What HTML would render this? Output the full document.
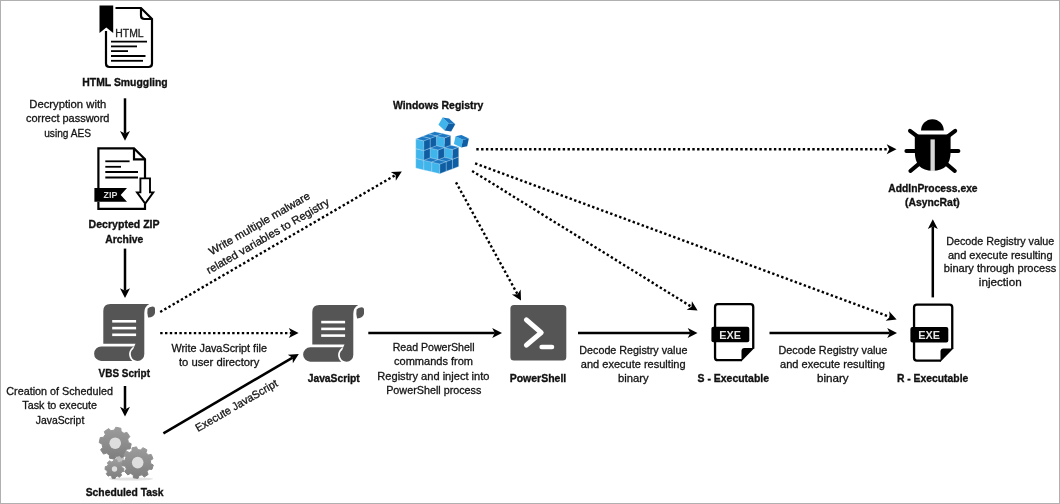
<!DOCTYPE html>
<html><head><meta charset="utf-8"><style>
html,body{margin:0;padding:0;background:#fff;overflow:hidden;width:1060px;height:504px;}
svg{display:block;font-family:"Liberation Sans",sans-serif;will-change:transform;}
</style></head><body>
<svg width="1060" height="504" viewBox="0 0 1060 504">
<rect width="1060" height="504" fill="#fff"/>
<rect x="0.5" y="0.5" width="1059" height="503" fill="none" stroke="#b0b0b0" stroke-width="1"/>
<line x1="125" y1="98.3" x2="125.00" y2="133.60" stroke="#000" stroke-width="2.5"/>
<path d="M125.00,140.80 L120.00,131.00 L125.00,133.60 L130.00,131.00Z" fill="#000"/>
<line x1="125" y1="248.6" x2="125.00" y2="290.80" stroke="#000" stroke-width="2.5"/>
<path d="M125.00,298.00 L120.00,288.20 L125.00,290.80 L130.00,288.20Z" fill="#000"/>
<line x1="125" y1="386" x2="125.00" y2="409.40" stroke="#000" stroke-width="2.5"/>
<path d="M125.00,416.60 L120.00,406.80 L125.00,409.40 L130.00,406.80Z" fill="#000"/>
<line x1="163.4" y1="433.3" x2="292.59" y2="357.64" stroke="#000" stroke-width="2.5"/>
<path d="M298.80,354.00 L292.87,363.27 L292.59,357.64 L287.82,354.64Z" fill="#000"/>
<line x1="368.3" y1="333.1" x2="494.80" y2="333.10" stroke="#000" stroke-width="2.5"/>
<path d="M502.00,333.10 L492.20,338.10 L494.80,333.10 L492.20,328.10Z" fill="#000"/>
<line x1="578" y1="333.1" x2="690.30" y2="333.10" stroke="#000" stroke-width="2.5"/>
<path d="M697.50,333.10 L687.70,338.10 L690.30,333.10 L687.70,328.10Z" fill="#000"/>
<line x1="769.5" y1="333.1" x2="889.80" y2="333.10" stroke="#000" stroke-width="2.5"/>
<path d="M897.00,333.10 L887.20,338.10 L889.80,333.10 L887.20,328.10Z" fill="#000"/>
<line x1="932.8" y1="297.4" x2="932.80" y2="226.50" stroke="#000" stroke-width="2.5"/>
<path d="M932.80,219.30 L937.80,229.10 L932.80,226.50 L927.80,229.10Z" fill="#000"/>
<line x1="160.2" y1="312" x2="395.58" y2="175.02" stroke="#000" stroke-width="2.4" stroke-dasharray="2.4 2.4"/>
<path d="M401.80,171.40 L395.84,180.65 L395.58,175.02 L390.81,172.01Z" fill="#000"/>
<line x1="160.2" y1="333.1" x2="291.40" y2="333.10" stroke="#000" stroke-width="2.4" stroke-dasharray="2.4 2.4"/>
<path d="M298.60,333.10 L288.80,338.10 L291.40,333.10 L288.80,328.10Z" fill="#000"/>
<line x1="476.3" y1="149.3" x2="889.30" y2="149.30" stroke="#000" stroke-width="2.4" stroke-dasharray="2.4 2.4"/>
<path d="M896.50,149.30 L886.70,154.30 L889.30,149.30 L886.70,144.30Z" fill="#000"/>
<line x1="475.1" y1="163.4" x2="889.85" y2="316.90" stroke="#000" stroke-width="2.4" stroke-dasharray="2.4 2.4"/>
<path d="M896.60,319.40 L885.67,320.69 L889.85,316.90 L889.14,311.31Z" fill="#000"/>
<line x1="472.1" y1="170.9" x2="691.48" y2="306.81" stroke="#000" stroke-width="2.4" stroke-dasharray="2.4 2.4"/>
<path d="M697.60,310.60 L686.64,309.69 L691.48,306.81 L691.90,301.19Z" fill="#000"/>
<line x1="456" y1="182.3" x2="517.53" y2="294.29" stroke="#000" stroke-width="2.4" stroke-dasharray="2.4 2.4"/>
<path d="M521.00,300.60 L511.90,294.42 L517.53,294.29 L520.66,289.60Z" fill="#000"/>
<g fill="none" stroke="#000" stroke-width="2.2">
<path d="M115.5,8 H141 L152,19 V63.5 Q152,67 148.5,67 H109.5 Q106,67 106,63.5 V31"/>
<path d="M141,8 V15.5 Q141,19 144.5,19 H152"/>
</g>
<path d="M99.5,5.6 H113.2 V33 L106.3,27.5 L99.5,33Z" fill="#000"/>
<g stroke="#000" stroke-width="1.8">
<line x1="111" y1="41.7" x2="147" y2="41.7"/>
<line x1="111" y1="46.4" x2="137" y2="46.4"/>
<line x1="111" y1="51.1" x2="128" y2="51.1"/>
<line x1="111" y1="56" x2="145.5" y2="56"/>
<line x1="111" y1="60.8" x2="143" y2="60.8"/>
</g>
<text x="115.3" y="37.2" font-size="10" textLength="28.3" lengthAdjust="spacingAndGlyphs" fill="#222" stroke="#222" stroke-width="0.3">HTML</text>

<g fill="none" stroke="#000" stroke-width="2.2">
<path d="M98.4,188 V148.4 H134 L145,159.3 V178.2"/>
<path d="M134,148.4 V159.3 H145"/>
<path d="M98.4,201.8 V208.8 H145 V204"/>
<path d="M140.4,178.4 H150 V192.4 H153.3 L145.2,203.6 L137,192.4 H140.4Z" stroke-width="1.9"/>
</g>
<g stroke="#000" stroke-width="1.8">
<line x1="105.3" y1="161.3" x2="129.6" y2="161.3"/>
<line x1="105.3" y1="166.8" x2="121" y2="166.8"/>
<line x1="105.3" y1="172" x2="138" y2="172"/>
<line x1="105.3" y1="177.5" x2="138" y2="177.5"/>
</g>
<path d="M94.4,188 H127 L120.7,194.9 L127,201.8 H94.4Z" fill="#000"/>
<text x="103.6" y="198.2" font-size="9.9" font-weight="bold" textLength="13.8" lengthAdjust="spacingAndGlyphs" fill="#ddd">ZIP</text>

<g transform="translate(0,0)" fill="#555">
<path d="M103.3,343.7 V311.1 Q103.3,304.1 110.3,304.1 H149.3 Q144.3,306.8 144.3,313 V354.2 A6.7,6.7 0 0 1 137.5,360.9 A6.7,6.7 0 0 1 133.2,349.1 Q134.4,346 135.5,343.7 Z"/>
<path d="M147.6,308.8 Q149,306.8 152.5,306.5 Q155.1,306.5 155,309.2 V313 Q154.3,317.2 148.1,317.6 Q146.8,313 147.6,308.8Z"/>
<path d="M101.3,346.5 H134.1 A8.4,8.4 0 0 0 132.4,360.9 H101.3 A7.2,7.2 0 0 1 101.3,346.5Z"/>
<g stroke="#fff" stroke-width="2.6">
<line x1="112.2" y1="321.3" x2="136.1" y2="321.3"/>
<line x1="112.2" y1="328.1" x2="136.1" y2="328.1"/>
<line x1="112.2" y1="334.8" x2="136.1" y2="334.8"/>
</g></g>
<g transform="translate(209,0.8)" fill="#555">
<path d="M103.3,343.7 V311.1 Q103.3,304.1 110.3,304.1 H149.3 Q144.3,306.8 144.3,313 V354.2 A6.7,6.7 0 0 1 137.5,360.9 A6.7,6.7 0 0 1 133.2,349.1 Q134.4,346 135.5,343.7 Z"/>
<path d="M147.6,308.8 Q149,306.8 152.5,306.5 Q155.1,306.5 155,309.2 V313 Q154.3,317.2 148.1,317.6 Q146.8,313 147.6,308.8Z"/>
<path d="M101.3,346.5 H134.1 A8.4,8.4 0 0 0 132.4,360.9 H101.3 A7.2,7.2 0 0 1 101.3,346.5Z"/>
<g stroke="#fff" stroke-width="2.6">
<line x1="112.2" y1="321.3" x2="136.1" y2="321.3"/>
<line x1="112.2" y1="328.1" x2="136.1" y2="328.1"/>
<line x1="112.2" y1="334.8" x2="136.1" y2="334.8"/>
</g></g>
<defs><linearGradient id="gg" x1="0" y1="0" x2="0" y2="1"><stop offset="0" stop-color="#9c9c9c"/><stop offset="1" stop-color="#7e7e7e"/></linearGradient></defs>
<ellipse cx="131" cy="479" rx="22" ry="1.6" fill="#e2e2e2"/>
<circle cx="120" cy="458.5" r="4" fill="#bdbdbd"/>
<path d="M128.38,442.42 L131.19,443.76 L130.15,448.91 L127.03,449.05 L125.07,451.97 L126.11,454.90 L121.73,457.81 L119.43,455.70 L115.98,456.38 L114.64,459.19 L109.49,458.15 L109.35,455.03 L106.43,453.07 L103.50,454.11 L100.59,449.73 L102.70,447.43 L102.02,443.98 L99.21,442.64 L100.25,437.49 L103.37,437.35 L105.33,434.43 L104.29,431.50 L108.67,428.59 L110.97,430.70 L114.42,430.02 L115.76,427.21 L120.91,428.25 L121.05,431.37 L123.97,433.33 L126.90,432.29 L129.81,436.67 L127.70,438.97Z" fill="url(#gg)" stroke="url(#gg)" stroke-width="1" stroke-linejoin="round"/><circle cx="115.2" cy="443.2" r="5.8" fill="#dedede"/>
<path d="M122.20,467.76 L123.98,468.38 L123.67,471.49 L121.80,471.74 L120.82,473.57 L121.64,475.27 L119.22,477.24 L117.72,476.10 L115.74,476.70 L115.12,478.48 L112.01,478.17 L111.76,476.30 L109.93,475.32 L108.23,476.14 L106.26,473.72 L107.40,472.22 L106.80,470.24 L105.02,469.62 L105.33,466.51 L107.20,466.26 L108.18,464.43 L107.36,462.73 L109.78,460.76 L111.28,461.90 L113.26,461.30 L113.88,459.52 L116.99,459.83 L117.24,461.70 L119.07,462.68 L120.77,461.86 L122.74,464.28 L121.60,465.78Z" fill="url(#gg)" stroke="url(#gg)" stroke-width="1" stroke-linejoin="round"/><circle cx="114.5" cy="469" r="2.7" fill="#dedede"/>
<path d="M150.67,463.50 L153.31,465.01 L151.95,469.42 L148.91,469.18 L147.05,471.63 L148.11,474.49 L144.23,476.99 L142.06,474.85 L139.06,475.53 L138.03,478.40 L133.45,477.82 L133.17,474.79 L130.43,473.38 L127.80,474.92 L124.66,471.53 L126.40,469.02 L125.20,466.19 L122.20,465.67 L121.98,461.06 L124.91,460.26 L125.82,457.31 L123.85,454.99 L126.64,451.31 L129.41,452.58 L132.00,450.92 L131.98,447.87 L136.48,446.85 L137.79,449.60 L140.84,449.99 L142.79,447.64 L146.90,449.75 L146.12,452.70 L148.22,454.96 L151.21,454.41 L153.00,458.67 L150.52,460.43Z" fill="url(#gg)" stroke="url(#gg)" stroke-width="1" stroke-linejoin="round"/><circle cx="137.7" cy="462.6" r="5.8" fill="#dedede"/>
<g stroke="#d0ebfa" stroke-width="0.3" stroke-linejoin="round"><polygon points="428.40,163.20 436.40,165.10 436.40,155.40 428.40,153.50" fill="#40b5ec"/><polygon points="436.40,165.10 442.70,162.70 442.70,153.00 436.40,155.40" fill="#0f5ea3"/><polygon points="428.40,153.50 436.40,155.40 442.70,153.00 434.70,151.10" fill="#1c78c2"/><polygon points="436.40,165.10 444.40,167.00 444.40,157.30 436.40,155.40" fill="#40b5ec"/><polygon points="444.40,167.00 450.70,164.60 450.70,154.90 444.40,157.30" fill="#0f5ea3"/><polygon points="436.40,155.40 444.40,157.30 450.70,154.90 442.70,153.00" fill="#1c78c2"/><polygon points="444.40,167.00 452.40,168.90 452.40,159.20 444.40,157.30" fill="#40b5ec"/><polygon points="452.40,168.90 458.70,166.50 458.70,156.80 452.40,159.20" fill="#0f5ea3"/><polygon points="444.40,157.30 452.40,159.20 458.70,156.80 450.70,154.90" fill="#1c78c2"/><polygon points="428.40,153.50 436.40,155.40 436.40,145.70 428.40,143.80" fill="#40b5ec"/><polygon points="436.40,155.40 442.70,153.00 442.70,143.30 436.40,145.70" fill="#0f5ea3"/><polygon points="428.40,143.80 436.40,145.70 442.70,143.30 434.70,141.40" fill="#1c78c2"/><polygon points="436.40,155.40 444.40,157.30 444.40,147.60 436.40,145.70" fill="#40b5ec"/><polygon points="444.40,157.30 450.70,154.90 450.70,145.20 444.40,147.60" fill="#0f5ea3"/><polygon points="436.40,145.70 444.40,147.60 450.70,145.20 442.70,143.30" fill="#1c78c2"/><polygon points="444.40,157.30 452.40,159.20 452.40,149.50 444.40,147.60" fill="#40b5ec"/><polygon points="452.40,159.20 458.70,156.80 458.70,147.10 452.40,149.50" fill="#0f5ea3"/><polygon points="444.40,147.60 452.40,149.50 458.70,147.10 450.70,145.20" fill="#1c78c2"/><polygon points="428.40,143.80 436.40,145.70 436.40,136.00 428.40,134.10" fill="#40b5ec"/><polygon points="436.40,145.70 442.70,143.30 442.70,133.60 436.40,136.00" fill="#0f5ea3"/><polygon points="428.40,134.10 436.40,136.00 442.70,133.60 434.70,131.70" fill="#1c78c2"/><polygon points="436.40,145.70 444.40,147.60 444.40,137.90 436.40,136.00" fill="#40b5ec"/><polygon points="444.40,147.60 450.70,145.20 450.70,135.50 444.40,137.90" fill="#0f5ea3"/><polygon points="436.40,136.00 444.40,137.90 450.70,135.50 442.70,133.60" fill="#1c78c2"/><polygon points="422.10,165.60 430.10,167.50 430.10,157.80 422.10,155.90" fill="#40b5ec"/><polygon points="430.10,167.50 436.40,165.10 436.40,155.40 430.10,157.80" fill="#0f5ea3"/><polygon points="422.10,155.90 430.10,157.80 436.40,155.40 428.40,153.50" fill="#1c78c2"/><polygon points="430.10,167.50 438.10,169.40 438.10,159.70 430.10,157.80" fill="#40b5ec"/><polygon points="438.10,169.40 444.40,167.00 444.40,157.30 438.10,159.70" fill="#0f5ea3"/><polygon points="430.10,157.80 438.10,159.70 444.40,157.30 436.40,155.40" fill="#1c78c2"/><polygon points="438.10,169.40 446.10,171.30 446.10,161.60 438.10,159.70" fill="#40b5ec"/><polygon points="446.10,171.30 452.40,168.90 452.40,159.20 446.10,161.60" fill="#0f5ea3"/><polygon points="438.10,159.70 446.10,161.60 452.40,159.20 444.40,157.30" fill="#1c78c2"/><polygon points="422.10,155.90 430.10,157.80 430.10,148.10 422.10,146.20" fill="#40b5ec"/><polygon points="430.10,157.80 436.40,155.40 436.40,145.70 430.10,148.10" fill="#0f5ea3"/><polygon points="422.10,146.20 430.10,148.10 436.40,145.70 428.40,143.80" fill="#1c78c2"/><polygon points="430.10,157.80 438.10,159.70 438.10,150.00 430.10,148.10" fill="#40b5ec"/><polygon points="438.10,159.70 444.40,157.30 444.40,147.60 438.10,150.00" fill="#0f5ea3"/><polygon points="430.10,148.10 438.10,150.00 444.40,147.60 436.40,145.70" fill="#1c78c2"/><polygon points="422.10,146.20 430.10,148.10 430.10,138.40 422.10,136.50" fill="#40b5ec"/><polygon points="430.10,148.10 436.40,145.70 436.40,136.00 430.10,138.40" fill="#0f5ea3"/><polygon points="422.10,136.50 430.10,138.40 436.40,136.00 428.40,134.10" fill="#1c78c2"/><polygon points="415.80,168.00 423.80,169.90 423.80,160.20 415.80,158.30" fill="#40b5ec"/><polygon points="423.80,169.90 430.10,167.50 430.10,157.80 423.80,160.20" fill="#0f5ea3"/><polygon points="415.80,158.30 423.80,160.20 430.10,157.80 422.10,155.90" fill="#1c78c2"/><polygon points="423.80,169.90 431.80,171.80 431.80,162.10 423.80,160.20" fill="#40b5ec"/><polygon points="431.80,171.80 438.10,169.40 438.10,159.70 431.80,162.10" fill="#0f5ea3"/><polygon points="423.80,160.20 431.80,162.10 438.10,159.70 430.10,157.80" fill="#1c78c2"/><polygon points="431.80,171.80 439.80,173.70 439.80,164.00 431.80,162.10" fill="#40b5ec"/><polygon points="439.80,173.70 446.10,171.30 446.10,161.60 439.80,164.00" fill="#0f5ea3"/><polygon points="431.80,162.10 439.80,164.00 446.10,161.60 438.10,159.70" fill="#1c78c2"/><polygon points="415.80,158.30 423.80,160.20 423.80,150.50 415.80,148.60" fill="#40b5ec"/><polygon points="423.80,160.20 430.10,157.80 430.10,148.10 423.80,150.50" fill="#0f5ea3"/><polygon points="415.80,148.60 423.80,150.50 430.10,148.10 422.10,146.20" fill="#1c78c2"/><polygon points="415.80,148.60 423.80,150.50 423.80,140.80 415.80,138.90" fill="#40b5ec"/><polygon points="423.80,150.50 430.10,148.10 430.10,138.40 423.80,140.80" fill="#0f5ea3"/><polygon points="415.80,138.90 423.80,140.80 430.10,138.40 422.10,136.50" fill="#1c78c2"/></g>
<g transform="rotate(30 447.5 123)"><polygon points="440.50,129.00 448.70,130.90 448.70,122.70 440.50,120.80" fill="#40b5ec"/><polygon points="448.70,130.90 454.90,128.50 454.90,120.30 448.70,122.70" fill="#0f5ea3"/><polygon points="440.50,120.80 448.70,122.70 454.90,120.30 446.70,118.40" fill="#1c78c2"/></g>
<g transform="rotate(12 461.5 139.5)"><polygon points="455.00,145.50 463.00,147.40 463.00,139.40 455.00,137.50" fill="#40b5ec"/><polygon points="463.00,147.40 468.50,145.00 468.50,137.00 463.00,139.40" fill="#0f5ea3"/><polygon points="455.00,137.50 463.00,139.40 468.50,137.00 460.50,135.10" fill="#1c78c2"/></g>
<rect x="510.4" y="305.1" width="55.9" height="55.5" rx="3.5" fill="#555"/>
<path d="M526.4,319.9 L541.2,332.6 L526.4,345.2" fill="none" stroke="#fff" stroke-width="5" stroke-linecap="round" stroke-linejoin="round"/>
<line x1="541.6" y1="347" x2="552" y2="347" stroke="#fff" stroke-width="4.5" stroke-linecap="round"/>

<g transform="translate(0,0)">
<path d="M742,360.15 H717.8 Q715.05,360.15 715.05,357.4 V306.9 Q715.05,304.15 717.8,304.15 H750.5 Q753.25,304.15 753.25,306.9 V348.5" fill="none" stroke="#000" stroke-width="2.3"/>
<path d="M741.5,361.3 V351 Q741.5,348 744.5,348 H754.4Z" fill="#000"/>
<rect x="711.4" y="326.7" width="37.9" height="15.5" rx="2" fill="#000"/>
<text x="719.2" y="338.8" font-size="11" font-weight="bold" textLength="21.8" lengthAdjust="spacingAndGlyphs" fill="#e6e6e6">EXE</text>
</g>
<g transform="translate(199,0.4)">
<path d="M742,360.15 H717.8 Q715.05,360.15 715.05,357.4 V306.9 Q715.05,304.15 717.8,304.15 H750.5 Q753.25,304.15 753.25,306.9 V348.5" fill="none" stroke="#000" stroke-width="2.3"/>
<path d="M741.5,361.3 V351 Q741.5,348 744.5,348 H754.4Z" fill="#000"/>
<rect x="711.4" y="326.7" width="37.9" height="15.5" rx="2" fill="#000"/>
<text x="719.2" y="338.8" font-size="11" font-weight="bold" textLength="21.8" lengthAdjust="spacingAndGlyphs" fill="#e6e6e6">EXE</text>
</g>
<path d="M921,130.6 A11.4,11.4 0 0 1 943.8,130.6Z" fill="#000"/>
<path d="M914.8,134.6 H950.6 V152 Q950.6,170.8 932.7,170.8 Q914.8,170.8 914.8,152Z" fill="#000"/>
<rect x="930.5" y="139.4" width="4.3" height="31.7" fill="#d8d8d8"/>
<g stroke="#000" stroke-width="4" stroke-linecap="round">
<line x1="910" y1="130.8" x2="917.3" y2="136.4"/>
<line x1="906.4" y1="151" x2="914.6" y2="151"/>
<line x1="910.4" y1="171" x2="918" y2="164.6"/>
<line x1="955.2" y1="130.8" x2="947.9" y2="136.4"/>
<line x1="958.4" y1="151" x2="950.6" y2="151"/>
<line x1="954.8" y1="171" x2="947.2" y2="164.6"/>
</g>
<text x="82.3" y="85.5" font-size="11.4" font-weight="bold" textLength="85.4" lengthAdjust="spacingAndGlyphs" fill="#111" stroke="#111" stroke-width="0.35">HTML Smuggling</text>
<text x="88.6" y="227.8" font-size="11.4" font-weight="bold" textLength="71.0" lengthAdjust="spacingAndGlyphs" fill="#111" stroke="#111" stroke-width="0.35">Decrypted ZIP</text>
<text x="105.3" y="242.5" font-size="11.4" font-weight="bold" textLength="38.0" lengthAdjust="spacingAndGlyphs" fill="#111" stroke="#111" stroke-width="0.35">Archive</text>
<text x="98.6" y="377" font-size="11.4" font-weight="bold" textLength="51.4" lengthAdjust="spacingAndGlyphs" fill="#111" stroke="#111" stroke-width="0.35">VBS Script</text>
<text x="85.7" y="496.3" font-size="11.4" font-weight="bold" textLength="77.9" lengthAdjust="spacingAndGlyphs" fill="#111" stroke="#111" stroke-width="0.35">Scheduled Task</text>
<text x="392.9" y="109.3" font-size="11.4" font-weight="bold" textLength="90.5" lengthAdjust="spacingAndGlyphs" fill="#111" stroke="#111" stroke-width="0.35">Windows Registry</text>
<text x="307.7" y="381.9" font-size="11.4" font-weight="bold" textLength="52.1" lengthAdjust="spacingAndGlyphs" fill="#111" stroke="#111" stroke-width="0.35">JavaScript</text>
<text x="509.7" y="381.8" font-size="11.4" font-weight="bold" textLength="56.6" lengthAdjust="spacingAndGlyphs" fill="#111" stroke="#111" stroke-width="0.35">PowerShell</text>
<text x="697.5" y="381.6" font-size="11.4" font-weight="bold" textLength="71.5" lengthAdjust="spacingAndGlyphs" fill="#111" stroke="#111" stroke-width="0.35">S - Executable</text>
<text x="896.9" y="382" font-size="11.4" font-weight="bold" textLength="71.4" lengthAdjust="spacingAndGlyphs" fill="#111" stroke="#111" stroke-width="0.35">R - Executable</text>
<text x="888.3" y="192.4" font-size="11.4" font-weight="bold" textLength="89.3" lengthAdjust="spacingAndGlyphs" fill="#111" stroke="#111" stroke-width="0.35">AddInProcess.exe</text>
<text x="905" y="205.7" font-size="11.4" font-weight="bold" textLength="54.8" lengthAdjust="spacingAndGlyphs" fill="#111" stroke="#111" stroke-width="0.35">(AsyncRat)</text>
<text x="29.3" y="107.5" font-size="11" textLength="77.0" lengthAdjust="spacingAndGlyphs" fill="#141414" stroke="#141414" stroke-width="0.3">Decryption with</text>
<text x="26" y="121.8" font-size="11" textLength="83.4" lengthAdjust="spacingAndGlyphs" fill="#141414" stroke="#141414" stroke-width="0.3">correct password</text>
<text x="44.2" y="136.9" font-size="11" textLength="46.8" lengthAdjust="spacingAndGlyphs" fill="#141414" stroke="#141414" stroke-width="0.3">using AES</text>
<text x="6.3" y="395.1" font-size="11" textLength="106.6" lengthAdjust="spacingAndGlyphs" fill="#141414" stroke="#141414" stroke-width="0.3">Creation of Scheduled</text>
<text x="22.3" y="409.2" font-size="11" textLength="74.7" lengthAdjust="spacingAndGlyphs" fill="#141414" stroke="#141414" stroke-width="0.3">Task to execute</text>
<text x="35.7" y="423.5" font-size="11" textLength="48.6" lengthAdjust="spacingAndGlyphs" fill="#141414" stroke="#141414" stroke-width="0.3">JavaScript</text>
<text x="171.4" y="352.2" font-size="11" textLength="95.6" lengthAdjust="spacingAndGlyphs" fill="#141414" stroke="#141414" stroke-width="0.3">Write JavaScript file</text>
<text x="178.9" y="366.3" font-size="11" textLength="80.6" lengthAdjust="spacingAndGlyphs" fill="#141414" stroke="#141414" stroke-width="0.3">to user directory</text>
<text x="392.7" y="351.3" font-size="11" textLength="81.9" lengthAdjust="spacingAndGlyphs" fill="#141414" stroke="#141414" stroke-width="0.3">Read PowerShell</text>
<text x="394" y="365.3" font-size="11" textLength="79.0" lengthAdjust="spacingAndGlyphs" fill="#141414" stroke="#141414" stroke-width="0.3">commands from</text>
<text x="377.3" y="379.8" font-size="11" textLength="112.2" lengthAdjust="spacingAndGlyphs" fill="#141414" stroke="#141414" stroke-width="0.3">Registry and inject into</text>
<text x="386.2" y="393.6" font-size="11" textLength="95.2" lengthAdjust="spacingAndGlyphs" fill="#141414" stroke="#141414" stroke-width="0.3">PowerShell process</text>
<text x="579.3" y="354" font-size="11" textLength="108.1" lengthAdjust="spacingAndGlyphs" fill="#141414" stroke="#141414" stroke-width="0.3">Decode Registry value</text>
<text x="580.8" y="368" font-size="11" textLength="104.8" lengthAdjust="spacingAndGlyphs" fill="#141414" stroke="#141414" stroke-width="0.3">and execute resulting</text>
<text x="618" y="381.9" font-size="11" textLength="30.7" lengthAdjust="spacingAndGlyphs" fill="#141414" stroke="#141414" stroke-width="0.3">binary</text>
<text x="778.5" y="354" font-size="11" textLength="108.9" lengthAdjust="spacingAndGlyphs" fill="#141414" stroke="#141414" stroke-width="0.3">Decode Registry value</text>
<text x="780" y="368.2" font-size="11" textLength="105.0" lengthAdjust="spacingAndGlyphs" fill="#141414" stroke="#141414" stroke-width="0.3">and execute resulting</text>
<text x="817" y="382" font-size="11" textLength="31.7" lengthAdjust="spacingAndGlyphs" fill="#141414" stroke="#141414" stroke-width="0.3">binary</text>
<text x="946.2" y="244.8" font-size="11" textLength="108.1" lengthAdjust="spacingAndGlyphs" fill="#141414" stroke="#141414" stroke-width="0.3">Decode Registry value</text>
<text x="947.9" y="258.6" font-size="11" textLength="104.7" lengthAdjust="spacingAndGlyphs" fill="#141414" stroke="#141414" stroke-width="0.3">and execute resulting</text>
<text x="943.8" y="272.4" font-size="11" textLength="112.4" lengthAdjust="spacingAndGlyphs" fill="#141414" stroke="#141414" stroke-width="0.3">binary through process</text>
<text x="978.8" y="286" font-size="11" textLength="42.9" lengthAdjust="spacingAndGlyphs" fill="#141414" stroke="#141414" stroke-width="0.3">injection</text>
<g transform="translate(2.5,2.5) rotate(-30 209 253)">
<text x="209" y="253" font-size="11" textLength="115.0" lengthAdjust="spacingAndGlyphs" fill="#141414" stroke="#141414" stroke-width="0.3">Write multiple malware</text>
</g>
<g transform="translate(2,2.5) rotate(-30 207 271.8)">
<text x="207" y="271.8" font-size="11" textLength="140.0" lengthAdjust="spacingAndGlyphs" fill="#141414" stroke="#141414" stroke-width="0.3">related variables to Registry</text>
</g>
<g transform="translate(2,2) rotate(-30 196 430)">
<text x="196" y="430" font-size="11" textLength="93.0" lengthAdjust="spacingAndGlyphs" fill="#141414" stroke="#141414" stroke-width="0.3">Execute JavaScript</text>
</g>
</svg></body></html>
